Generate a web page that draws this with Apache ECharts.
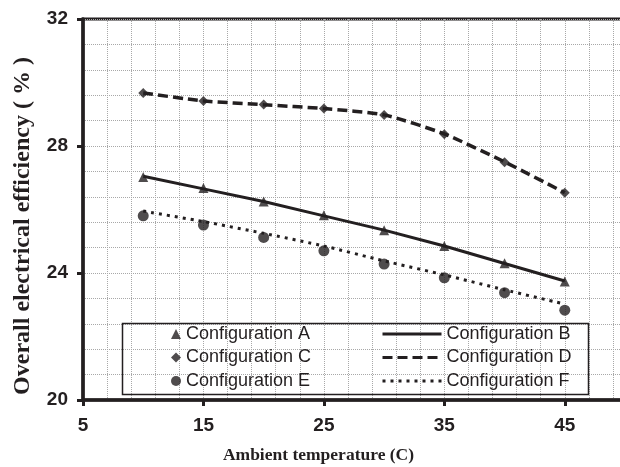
<!DOCTYPE html>
<html>
<head>
<meta charset="utf-8">
<script src="https://cdn.jsdelivr.net/npm/echarts@6/dist/echarts.min.js"></script>
<style>
html,body{margin:0;padding:0;background:#fff;}
#chart{width:620px;height:467px;}
</style>
</head>
<body>
<div id="chart"></div>
<script>
// Ambient temperature (C)
var temps = [10, 15, 20, 25, 30, 35, 40, 45];
// Overall electrical efficiency (%)
var configA = [27.02, 26.68, 26.25, 25.82, 25.35, 24.85, 24.31, 23.73];
var configB = [27.05, 26.65, 26.25, 25.80, 25.35, 24.85, 24.30, 23.75];
var configC = [29.67, 29.42, 29.31, 29.18, 28.98, 28.37, 27.49, 26.53];
var configD = [29.67, 29.42, 29.30, 29.18, 28.98, 28.38, 27.50, 26.53];
var configE = [25.80, 25.51, 25.12, 24.70, 24.28, 23.85, 23.38, 22.83];
var configF = [25.95, 25.62, 25.25, 24.85, 24.38, 23.94, 23.47, 23.02];
var xTickLabels = [5, 15, 25, 35, 45];
var yTickLabels = [20, 24, 28, 32];

var X0 = 5; // x-axis origin (first tick); axis counts from 0 so ticks land on 5,15,...
function pts(vals) { return temps.map(function (t, i) { return [t - X0, vals[i]]; }); }

var INK = '#231f20';
var GRIDC = '#a8a8a8';
var sans = 'Liberation Sans';
var serif = 'Liberation Serif';

var chart = echarts.init(document.getElementById('chart'), null, {renderer: 'canvas'});
chart.setOption({
  animation: false,
  backgroundColor: '#fff',
  grid: {left: 83, top: 19, width: 542, height: 381, outerBoundsMode: 'none', containLabel: false,
         show: true, borderColor: INK, borderWidth: 3, backgroundColor: 'transparent'},
  xAxis: {
    type: 'value', min: 0, max: 45, interval: 10,
    name: 'Ambient temperature (C)', nameLocation: 'middle', nameGap: 46,
    nameTextStyle: {fontFamily: serif, fontWeight: 'bold', fontSize: 17.5, color: INK, padding: [0, 71, 0, 0]},
    axisLine: {show: true, onZero: false, lineStyle: {color: INK, width: 3.5}},
    axisTick: {show: true, inside: false, length: 6, lineStyle: {color: INK, width: 3}},
    axisLabel: {margin: 16, fontFamily: sans, fontWeight: 'bold', fontSize: 19, color: INK,
      formatter: function (v) { var lab = v + X0; return xTickLabels.indexOf(lab) >= 0 ? String(lab) : ''; }},
    splitLine: {show: true, lineStyle: {color: GRIDC, type: 'dotted', width: 1}},
    minorTick: {show: false, splitNumber: 5},
    minorSplitLine: {show: true, lineStyle: {color: GRIDC, type: 'dotted', width: 1}}
  },
  yAxis: {
    type: 'value', min: 20, max: 32, interval: 4,
    name: 'Overall electrical efficiency ( % )', nameLocation: 'middle', nameGap: 48,
    nameTextStyle: {fontFamily: serif, fontWeight: 'bold', fontSize: 24, color: INK, padding: [0, 33, 0, 0]},
    axisLine: {show: true, onZero: false, lineStyle: {color: INK, width: 3.5}},
    axisTick: {show: true, inside: false, length: 6, lineStyle: {color: INK, width: 3}},
    axisLabel: {margin: 15, fontFamily: sans, fontWeight: 'bold', fontSize: 19, color: INK,
      formatter: function (v) { return yTickLabels.indexOf(v) >= 0 ? String(v) : ''; }},
    splitLine: {show: true, lineStyle: {color: GRIDC, type: 'dotted', width: 1}},
    minorTick: {show: false, splitNumber: 5},
    minorSplitLine: {show: true, lineStyle: {color: GRIDC, type: 'dotted', width: 1}}
  },
  legend: [
    {
      data: ['Configuration A', 'Configuration C', 'Configuration E'],
      orient: 'vertical', left: 171, top: 325, itemWidth: 10, itemHeight: 10, itemGap: 5.5,
      selectedMode: false, padding: 0,
      textStyle: {fontFamily: sans, fontSize: 18, color: INK}
    },
    {
      data: ['Configuration B', 'Configuration D', 'Configuration F'],
      orient: 'vertical', left: 381, top: 325, itemWidth: 59, itemHeight: 10, itemGap: 5.5,
      selectedMode: false, padding: 0,
      itemStyle: {opacity: 0},
      lineStyle: {width: 3, color: INK},
      textStyle: {fontFamily: sans, fontSize: 18, color: INK}
    }
  ],
  graphic: [
    {type: 'rect', left: 120, top: 321, shape: {width: 466, height: 71},
     style: {fill: 'none', stroke: INK, lineWidth: 1.5}, z: 100}
  ],
  series: [
    {name: 'Configuration A', type: 'scatter', data: pts(configA), symbol: 'triangle', symbolSize: 10,
     itemStyle: {color: INK}, z: 5},
    {name: 'Configuration B', type: 'line', data: pts(configB), symbol: 'none', showSymbol: false,
     lineStyle: {color: INK, width: 3, type: 'solid'}, itemStyle: {color: INK}, z: 4},
    {name: 'Configuration C', type: 'scatter', data: pts(configC), symbol: 'diamond', symbolSize: 10,
     itemStyle: {color: INK}, z: 5},
    {name: 'Configuration D', type: 'line', data: pts(configD), symbol: 'none', showSymbol: false, smooth: 0.2,
     lineStyle: {color: INK, width: 3.5, type: [10, 5]}, itemStyle: {color: INK}, z: 4},
    {name: 'Configuration E', type: 'scatter', data: pts(configE), symbol: 'circle', symbolSize: 11,
     itemStyle: {color: INK}, z: 5},
    {name: 'Configuration F', type: 'line', data: pts(configF), symbol: 'none', showSymbol: false, smooth: 0.2,
     lineStyle: {color: INK, width: 3, type: [3, 5]}, itemStyle: {color: INK}, z: 4}
  ]
});
</script>
</body>
</html>
